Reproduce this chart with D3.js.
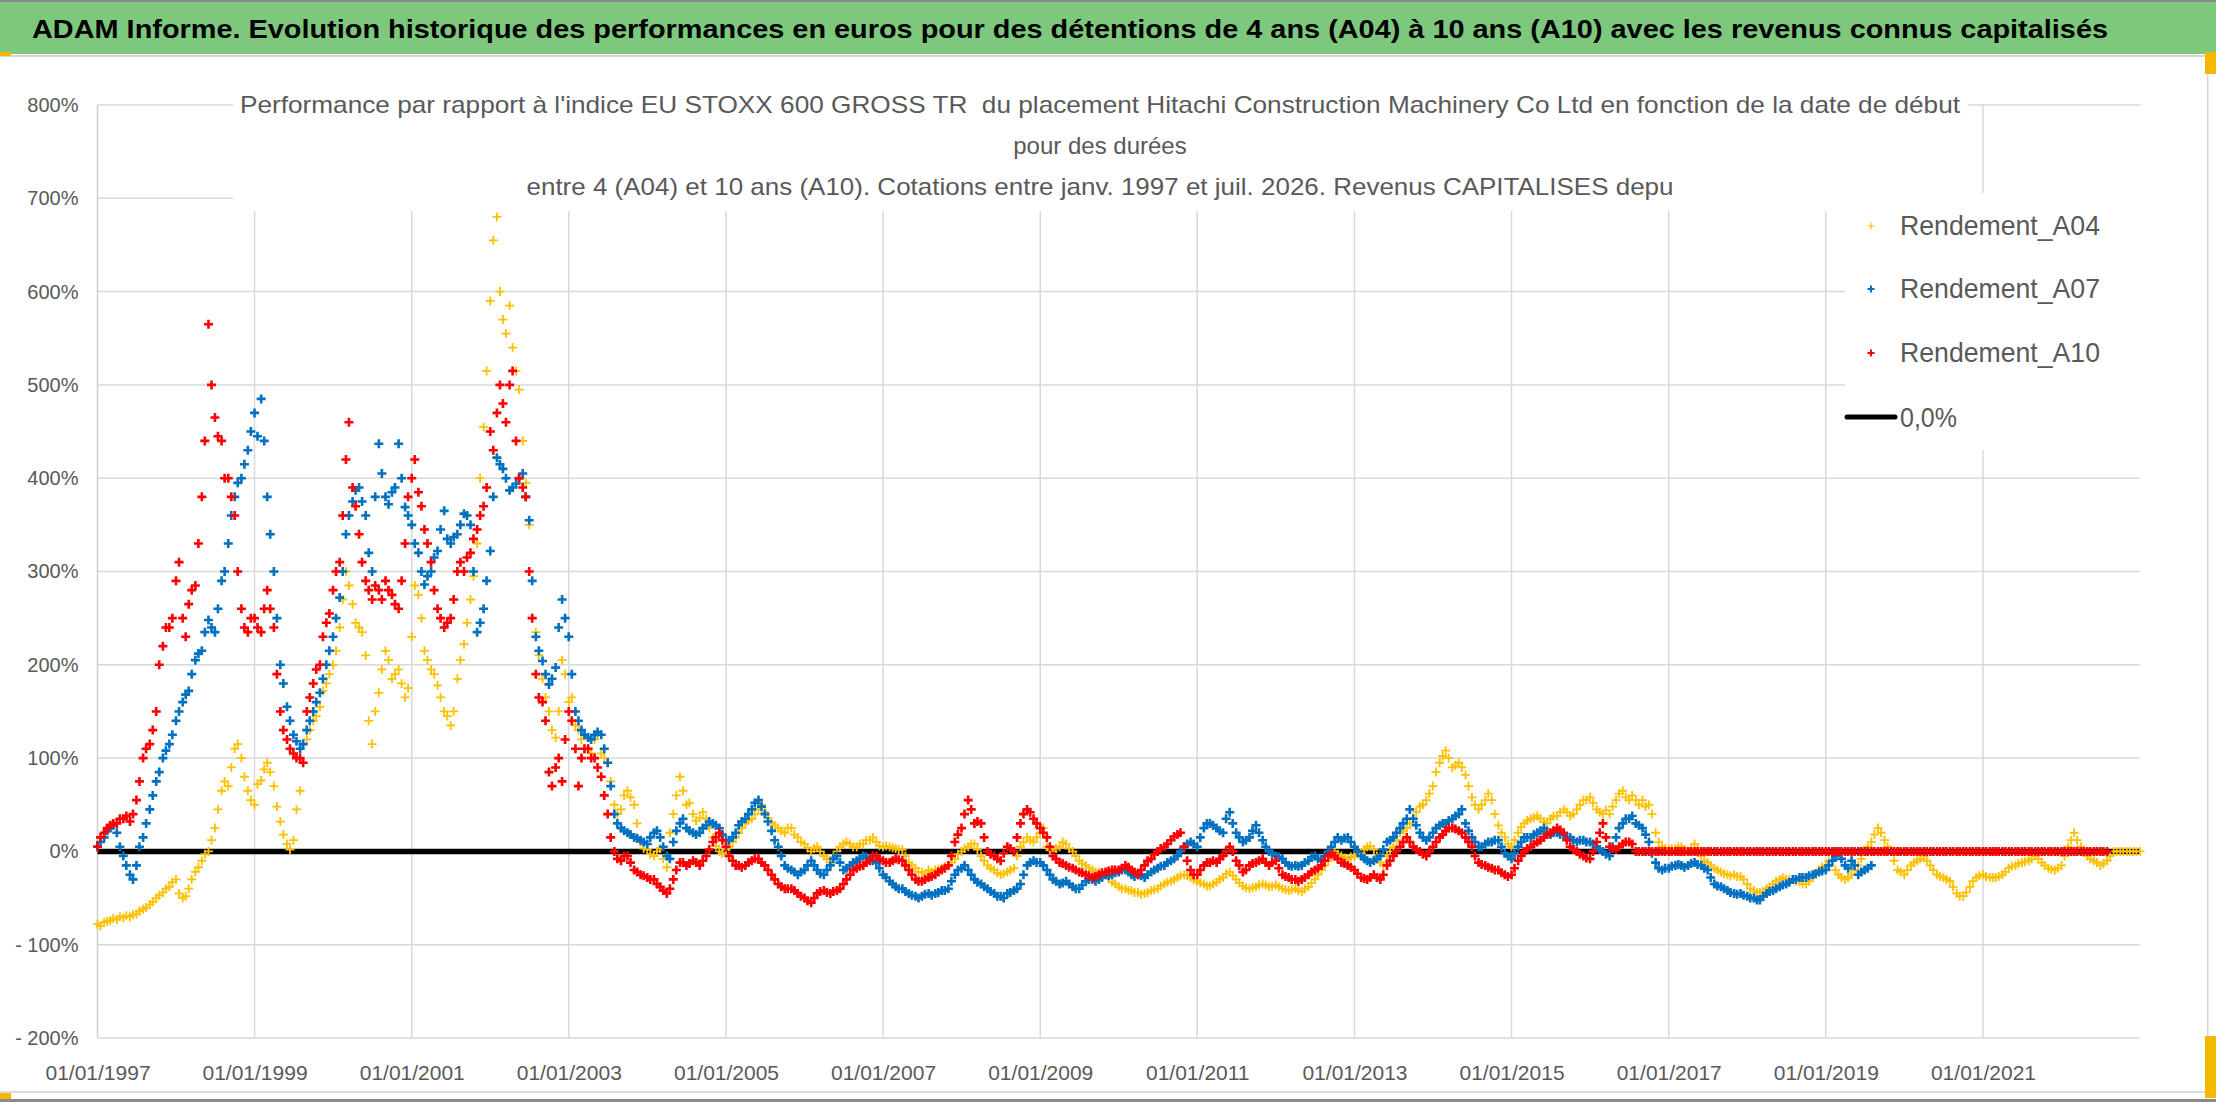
<!DOCTYPE html>
<html lang="fr">
<head>
<meta charset="utf-8">
<title>ADAM Informe - Hitachi Construction Machinery</title>
<script src="https://cdn.jsdelivr.net/npm/d3@7/dist/d3.min.js"></script>
<style>
  html, body { margin: 0; padding: 0; background: #fff; }
  svg { display: block; font-family: 'Liberation Sans', Arial, sans-serif; }
  text { white-space: pre; }
</style>
</head>
<body>
<svg id="chart" width="2216" height="1102"></svg>
<script>
// Texts
const bannerTitle = 'ADAM Informe. Evolution historique des performances en euros pour des détentions de 4 ans (A04) à 10 ans (A10) avec les revenus connus capitalisés';
const chartTitle = [
  "Performance par rapport à l'indice EU STOXX 600 GROSS TR  du placement Hitachi Construction Machinery Co Ltd en fonction de la date de début",
  'pour des durées',
  'entre 4 (A04) et 10 ans (A10). Cotations entre janv. 1997 et juil. 2026. Revenus CAPITALISES depu'
];

// Axes
const xTickDates = ['1997-01-01', '1999-01-01', '2001-01-01', '2003-01-01', '2005-01-01', '2007-01-01',
  '2009-01-01', '2011-01-01', '2013-01-01', '2015-01-01', '2017-01-01', '2019-01-01', '2021-01-01'];
const xTickLabels = ['01/01/1997', '01/01/1999', '01/01/2001', '01/01/2003', '01/01/2005', '01/01/2007',
  '01/01/2009', '01/01/2011', '01/01/2013', '01/01/2015', '01/01/2017', '01/01/2019', '01/01/2021'];
const xDomain = ['1997-01-01', '2023-01-01'];
const yTickValues = [-200, -100, 0, 100, 200, 300, 400, 500, 600, 700, 800];
const yTickLabels = ['- 200%', '- 100%', '0%', '100%', '200%', '300%', '400%', '500%', '600%', '700%', '800%'];

// Series: values in %, two per month (1st and 15th), starting 1 January 1997
const firstMonth = '1997-01-01';
const seriesNames = ['Rendement_A04', 'Rendement_A07', 'Rendement_A10'];
const seriesColors = ['#ffc000', '#0070c0', '#ff0000'];

const rendementA04 = [
  -78, -80, -76, -75, -74, -72, -73, -70, -71, -69, -70, -68, -67, -64, -62, -60, -57, -54, -50, -47, -44, -40, -38, -33, // 1997
  -30, -45, -50, -48, -40, -30, -22, -17, -10, -3, 0, 12, 25, 45, 65, 75, 70, 90, 110, 115, 100, 80, 65, 55,             // 1998
  50, 72, 76, 88, 95, 85, 70, 48, 32, 18, 8, 2, 12, 45, 65, 95, 120, 130, 140, 145, 155, 172, 180, 190,                   // 1999
  200, 215, 240, 270, 300, 285, 265, 245, 240, 235, 210, 140, 115, 150, 170, 195, 215, 205, 185, 190, 195, 180, 165, 175, // 2000
  230, 285, 275, 250, 215, 205, 195, 190, 178, 165, 150, 145, 135, 150, 185, 205, 222, 245, 270, 295, 330, 400, 455, 515, // 2001
  590, 655, 680, 600, 570, 555, 585, 540, 515, 495, 440, 395, 350, 250, 235, 210, 185, 165, 150, 130, 122, 150, 205, 190, // 2002
  160, 165, 135, 130, 120, 110, 110, 105, 120, 125, 105, 100, 95, 75, 50, 40, 45, 60, 65, 58, 50, 30, 10, 3,              // 2003
  2, -3, -5, 0, 3, -8, -17, 20, 40, 60, 80, 65, 50, 52, 40, 33, 36, 42, 35, 25, 15, 6, 0, -2,                             // 2004
  2, 5, 10, 15, 20, 25, 30, 33, 35, 40, 45, 50, 42, 36, 30, 28, 25, 22, 20, 25, 25, 18, 15, 10,                           // 2005
  8, 4, 0, 3, 5, 0, -5, -8, -12, -6, 0, 5, 8, 10, 8, 5, 5, 8, 8, 12, 12, 15, 10, 6,                                       // 2006
  5, 6, 5, 4, 3, 2, 2, -5, -12, -15, -18, -22, -22, -24, -20, -22, -20, -19, -18, -16, -15, -12, -8, -3,                  // 2007
  0, 3, 5, 8, 8, 2, -5, -10, -15, -18, -20, -23, -25, -24, -22, -20, -18, -5, 5, 10, 15, 12, 10, 15,                      // 2008
  20, 25, 5, 2, 0, 3, 5, 10, 8, 3, 0, -5, -10, -13, -15, -18, -20, -22, -22, -24, -25, -28, -33, -35,                     // 2009
  -38, -40, -40, -42, -42, -44, -44, -46, -45, -44, -42, -41, -40, -37, -35, -33, -32, -30, -28, -26, -25, -26, -28, -30, // 2010
  -32, -34, -35, -37, -37, -35, -33, -30, -28, -24, -22, -26, -30, -34, -37, -39, -40, -39, -38, -36, -35, -36, -38, -37, // 2011
  -36, -38, -40, -41, -42, -41, -40, -42, -43, -40, -38, -34, -30, -25, -20, -15, -10, -5, 0, -3, -5, -7, -8, -6,         // 2012
  -5, -3, -2, 2, 5, 6, 2, -5, -12, -15, -5, 0, 5, 12, 20, 22, 25, 30, 35, 42, 48, 50, 55, 62,                             // 2013
  70, 85, 95, 102, 108, 100, 90, 92, 95, 90, 82, 70, 58, 50, 45, 50, 55, 62, 55, 40, 28, 20, 15, 8,                       // 2014
  5, 12, 20, 26, 30, 33, 35, 36, 38, 35, 32, 30, 35, 38, 38, 42, 45, 42, 38, 40, 45, 50, 55, 55,                          // 2015
  58, 52, 45, 42, 40, 44, 40, 48, 55, 62, 65, 58, 55, 60, 55, 50, 55, 48, 50, 40, 20, 10, 5, 3,                           // 2016
  2, 3, 3, 5, 5, 2, 0, 3, 8, 3, -5, -10, -12, -15, -18, -20, -22, -24, -25, -26, -25, -27, -27, -30,                      // 2017
  -35, -40, -42, -44, -44, -43, -40, -38, -35, -32, -30, -28, -30, -30, -30, -32, -32, -35, -35, -32, -28, -24, -20, -17, // 2018
  -15, -10, -10, -20, -25, -28, -30, -28, -25, -20, -15, -8, 0, 5, 10, 18, 25, 20, 12, 5, 0, -10, -20, -22,               // 2019
  -25, -20, -15, -12, -10, -8, -5, -10, -15, -20, -25, -27, -28, -30, -32, -38, -45, -48, -48, -44, -38, -32, -28, -26,   // 2020
  -25, -27, -28, -28, -28, -27, -25, -22, -18, -16, -15, -13, -12, -11, -10, -8, -5, -8, -12, -15, -18, -19, -20, -18,    // 2021
  -15, -5, 5, 12, 20, 12, 5, 0, -5, -8, -10, -12, -15, -13, -10, -5, 0, 0, 0, 0, 0, 0, 0, 0,                              // 2022
  0                                                                                                                        // 2023
];

const rendementA07 = [
  5, 10, 15, 22, 25, 28, 20, 5, -5, -15, -25, -30, -15, 5, 15, 30, 45, 60, 75, 85, 100, 108, 115, 125,                    // 1997
  140, 150, 160, 168, 172, 190, 205, 212, 215, 235, 248, 240, 235, 260, 290, 300, 330, 360, 380, 395, 400, 415, 430, 450, // 1998
  470, 445, 485, 440, 380, 340, 300, 250, 200, 180, 155, 140, 125, 118, 110, 115, 130, 140, 150, 160, 170, 185, 200, 215, // 1999
  230, 250, 272, 300, 340, 360, 375, 387, 390, 375, 360, 320, 300, 380, 437, 405, 380, 372, 385, 390, 437, 400, 369, 360, // 2000
  350, 330, 320, 300, 286, 295, 300, 315, 322, 345, 365, 335, 330, 337, 340, 350, 362, 360, 350, 300, 235, 245, 260, 290, // 2001
  322, 380, 422, 415, 410, 400, 387, 390, 394, 400, 405, 380, 355, 290, 230, 215, 204, 190, 179, 185, 197, 240, 270, 250, // 2002
  230, 190, 150, 140, 130, 125, 122, 120, 125, 128, 125, 110, 95, 70, 40, 30, 25, 22, 20, 18, 15, 14, 12, 10,             // 2003
  8, 15, 20, 22, 15, 5, -5, -8, 10, 22, 30, 35, 25, 22, 20, 18, 20, 25, 28, 32, 30, 28, 25, 18,                           // 2004
  12, 12, 15, 20, 28, 32, 35, 40, 45, 52, 55, 48, 40, 32, 22, 12, 5, -5, -15, -18, -20, -22, -25, -22,                    // 2005
  -20, -15, -10, -15, -20, -24, -25, -20, -15, -8, -5, -12, -20, -18, -15, -12, -10, -8, -5, -6, -8, -10, -12, -18,       // 2006
  -25, -28, -32, -35, -38, -40, -40, -43, -45, -47, -48, -50, -48, -46, -45, -47, -45, -44, -42, -42, -40, -32, -25, -20, // 2007
  -18, -15, -20, -25, -30, -33, -35, -38, -40, -43, -45, -48, -48, -50, -45, -44, -42, -40, -35, -25, -15, -12, -10, -12, // 2008
  -12, -15, -20, -25, -30, -32, -35, -34, -32, -35, -38, -40, -40, -36, -32, -30, -30, -32, -30, -28, -25, -26, -25, -23, // 2009
  -22, -20, -20, -22, -25, -27, -25, -26, -28, -25, -22, -20, -18, -16, -15, -12, -10, -8, -5, 0, 5, 8, 10, 8,            // 2010
  5, 15, 25, 30, 30, 28, 25, 22, 20, 35, 42, 30, 20, 15, 10, 12, 15, 22, 28, 20, 12, 5, 0, -2,                            // 2011
  -5, -6, -8, -12, -15, -16, -15, -16, -15, -12, -10, -6, -5, -8, -10, -5, 0, 5, 10, 15, 12, 14, 15, 10,                  // 2012
  5, 0, -5, -8, -10, -12, -10, -8, -5, 2, 10, 12, 15, 20, 25, 30, 35, 45, 35, 28, 20, 15, 12, 15,                         // 2013
  20, 25, 28, 30, 30, 33, 35, 38, 40, 45, 30, 22, 15, 10, 5, 5, 8, 10, 10, 12, 12, 5, -2, -5,                             // 2014
  -8, -2, 5, 10, 15, 15, 15, 18, 20, 22, 25, 20, 18, 20, 20, 18, 18, 15, 15, 12, 10, 12, 12, 10,                          // 2015
  10, 8, 5, 2, 0, -3, -5, 5, 15, 25, 30, 35, 35, 38, 30, 28, 25, 18, 10, -2, -12, -18, -20, -18,                          // 2016
  -18, -16, -15, -14, -15, -17, -15, -13, -12, -14, -15, -18, -20, -28, -35, -37, -38, -40, -42, -44, -45, -46, -45, -47, // 2017
  -48, -50, -50, -52, -52, -48, -45, -43, -42, -40, -38, -36, -35, -33, -30, -30, -28, -28, -28, -26, -25, -24, -22, -21, // 2018
  -20, -15, -10, -5, 0, -8, -15, -18, -10, -15, -25, -22, -20, -18, -15                                                   // 2019
];

const rendementA10 = [
  5, 15, 20, 25, 28, 30, 30, 35, 35, 38, 32, 40, 55, 75, 100, 110, 115, 130, 150, 200, 220, 240, 240, 250,                // 1997
  290, 310, 250, 230, 265, 280, 285, 330, 380, 440, 565, 500, 465, 445, 440, 400, 400, 380, 360, 300, 260, 240, 235, 250, // 1998
  250, 240, 235, 260, 280, 260, 240, 190, 150, 130, 120, 110, 105, 100, 100, 95, 150, 165, 180, 195, 200, 230, 245, 255,  // 1999
  280, 300, 310, 360, 420, 460, 390, 370, 340, 310, 290, 280, 270, 285, 280, 270, 290, 280, 275, 265, 260, 290, 330, 380, // 2000
  400, 420, 385, 370, 345, 330, 310, 280, 260, 250, 240, 245, 250, 270, 300, 310, 300, 315, 320, 335, 345, 360, 370, 390, // 2001
  450, 430, 470, 500, 480, 460, 500, 515, 440, 400, 390, 380, 300, 250, 190, 165, 160, 140, 85, 70, 90, 100, 75, 120,     // 2002
  150, 140, 110, 70, 100, 110, 110, 100, 100, 90, 80, 60, 40, 15, 0, -8, -10, -5, -5, -12, -20, -22, -25, -26,            // 2003
  -28, -30, -30, -35, -38, -42, -45, -40, -30, -20, -12, -12, -15, -13, -10, -12, -15, -10, -5, 2, 10, 15, 20, 12,        // 2004
  5, -5, -10, -15, -15, -17, -15, -12, -10, -8, -8, -12, -15, -20, -25, -30, -35, -38, -40, -40, -40, -42, -45, -48,      // 2005
  -50, -53, -55, -50, -45, -43, -42, -44, -45, -43, -42, -40, -35, -30, -25, -20, -18, -16, -15, -12, -10, -5, -5, -8,    // 2006
  -10, -12, -12, -10, -8, -9, -10, -15, -20, -25, -30, -32, -32, -30, -28, -27, -25, -22, -20, -18, -15, -5, 10, 18,      // 2007
  25, 40, 55, 45, 30, 32, 30, 15, 0, -3, -5, -8, -10, -2, 5, 3, 0, 15, 30, 40, 45, 42, 35, 30,                            // 2008
  25, 20, 15, 5, -5, -8, -12, -13, -15, -17, -18, -20, -22, -23, -25, -26, -28, -27, -25, -23, -22, -21, -20, -20,        // 2009
  -20, -18, -15, -17, -20, -22, -25, -20, -15, -10, -8, -3, 0, 3, 5, 8, 12, 16, 18, 20, 5, -10, -20, -25,                 // 2010
  -25, -20, -15, -12, -12, -10, -12, -8, -5, 0, 5, 0, -10, -15, -22, -20, -15, -13, -12, -10, -8, -12, -15, -12,          // 2011
  -10, -18, -25, -27, -28, -30, -30, -32, -30, -28, -25, -22, -20, -18, -15, -10, -5, -3, -5, -8, -12, -13, -15, -17,     // 2012
  -20, -24, -28, -29, -30, -28, -25, -28, -30, -25, -15, -10, -5, 0, 5, 10, 15, 10, 5, 2, 0, -3, -5, 0,                   // 2013
  5, 10, 15, 18, 22, 25, 25, 24, 22, 20, 15, 10, 5, -5, -12, -14, -15, -17, -18, -20, -20, -23, -25, -27,                 // 2014
  -25, -18, -10, -5, 0, 3, 5, 8, 10, 12, 15, 18, 20, 22, 25, 23, 20, 12, 5, 2, 0, -3, -5, -7,                             // 2015
  -8, 0, 10, 20, 30, 15, 5, 3, 2, 5, 8, 10, 10, 8, 0, 0, 0, 0, 0, 0, 0, 0, 0, 0,                                          // 2016
  0, 0, 0, 0, 0, 0, 0, 0, 0, 0, 0, 0, 0, 0, 0, 0, 0, 0, 0, 0, 0, 0, 0, 0,                                                 // 2017
  0, 0, 0, 0, 0, 0, 0, 0, 0, 0, 0, 0, 0, 0, 0, 0, 0, 0, 0, 0, 0, 0, 0, 0,                                                 // 2018
  0, 0, 0, 0, 0, 0, 0, 0, 0, 0, 0, 0, 0, 0, 0, 0, 0, 0, 0, 0, 0, 0, 0, 0,                                                 // 2019
  0, 0, 0, 0, 0, 0, 0, 0, 0, 0, 0, 0, 0, 0, 0, 0, 0, 0, 0, 0, 0, 0, 0, 0,                                                 // 2020
  0, 0, 0, 0, 0, 0, 0, 0, 0, 0, 0, 0, 0, 0, 0, 0, 0, 0, 0, 0, 0, 0, 0, 0,                                                 // 2021
  0, 0, 0, 0, 0, 0, 0, 0, 0, 0, 0, 0, 0, 0, 0                                                                             // 2022
];

// Reference line "0,0%"
const seuilLabel = '0,0%';
const seuilDates = ['1997-01-01', '2023-01-01'];
const seuilValues = [0, 0];

const parseDate = d3.timeParse('%Y-%m-%d');

const renderChart = () => {
  const svg = d3.select('#chart');
  const W = 2216;
  const H = 1102;
  const plot = { left: 97.5, right: 2140, top: 105, bottom: 1038 };

  const x = d3.scaleTime()
    .domain(xDomain.map(parseDate))
    .range([plot.left, plot.right]);

  const y = d3.scaleLinear()
    .domain([-200, 800])
    .range([plot.bottom, plot.top]);

  // Frame and banner
  svg.append('rect').attr('width', W).attr('height', H).attr('fill', '#fff');
  svg.append('rect').attr('x', 0).attr('y', 0).attr('width', W).attr('height', 54).attr('fill', '#7dc87d');
  svg.append('rect').attr('x', 0).attr('y', 0).attr('width', W).attr('height', 2).attr('fill', '#8a8a8a');
  svg.append('rect').attr('x', 0).attr('y', 55).attr('width', W).attr('height', 2).attr('fill', '#d6d6d6');
  svg.append('rect').attr('x', 2207).attr('y', 57).attr('width', 1.5).attr('height', 1035).attr('fill', '#d6d6d6');
  svg.append('rect').attr('x', 0).attr('y', 1091).attr('width', 2208).attr('height', 2).attr('fill', '#dcdcdc');
  svg.append('rect').attr('x', 0).attr('y', 1099).attr('width', W).attr('height', 3).attr('fill', '#8a8a8a');
  // Excel selection handles
  svg.append('rect').attr('x', 0).attr('y', 52).attr('width', 11).attr('height', 4).attr('fill', '#f5b800');
  svg.append('rect').attr('x', 0).attr('y', 1093).attr('width', 11).attr('height', 6).attr('fill', '#f5b800');
  svg.append('rect').attr('x', 2205).attr('y', 52).attr('width', 11).attr('height', 22).attr('fill', '#f5b800');
  svg.append('rect').attr('x', 2205).attr('y', 1036).attr('width', 11).attr('height', 62).attr('fill', '#f5b800');

  svg.append('text')
    .attr('x', 32)
    .attr('y', 38)
    .attr('textLength', 2076)
    .attr('lengthAdjust', 'spacingAndGlyphs')
    .style('font-size', '25px')
    .style('font-weight', 'bold')
    .attr('fill', '#000')
    .text(bannerTitle);

  // Gridlines
  const grid = svg.append('g').attr('class', 'grid');
  grid.selectAll('line.h')
    .data(yTickValues)
    .enter().append('line')
    .attr('class', 'h')
    .attr('x1', plot.left).attr('x2', plot.right)
    .attr('y1', d => y(d)).attr('y2', d => y(d))
    .attr('stroke', '#d9d9d9')
    .attr('stroke-width', 1.5);

  grid.selectAll('line.v')
    .data(xTickDates.slice(1).map(parseDate))
    .enter().append('line')
    .attr('class', 'v')
    .attr('x1', d => x(d)).attr('x2', d => x(d))
    .attr('y1', plot.top).attr('y2', plot.bottom)
    .attr('stroke', '#d9d9d9')
    .attr('stroke-width', 1.5);

  grid.append('line')
    .attr('x1', plot.left).attr('x2', plot.left)
    .attr('y1', plot.top).attr('y2', plot.bottom)
    .attr('stroke', '#d0d0d0')
    .attr('stroke-width', 1.5);

  // White boxes behind the chart title and the legend
  svg.append('rect').attr('x', 233).attr('y', 90).attr('width', 1735).attr('height', 121).attr('fill', '#fff');
  svg.append('rect').attr('x', 1845).attr('y', 193).attr('width', 310).attr('height', 257).attr('fill', '#fff');

  // Y axis labels
  svg.append('g')
    .attr('transform', `translate(${plot.left - 19},0)`)
    .call(d3.axisLeft(y).tickValues(yTickValues).tickFormat((d, i) => yTickLabels[i]).tickSize(0))
    .call(g => g.select('.domain').remove())
    .call(g => g.selectAll('text')
      .attr('x', 0)
      .attr('fill', '#595959')
      .style('font-size', '20px')
      .style('font-family', "'Liberation Sans', Arial, sans-serif"));

  // X axis labels
  svg.append('g')
    .attr('transform', `translate(0,${plot.bottom + 27})`)
    .call(d3.axisBottom(x).tickValues(xTickDates.map(parseDate)).tickFormat((d, i) => xTickLabels[i]).tickSize(0))
    .call(g => g.select('.domain').remove())
    .call(g => g.selectAll('text')
      .attr('y', 0)
      .attr('dy', '0.71em')
      .attr('fill', '#595959')
      .style('font-size', '21px')
      .style('font-family', "'Liberation Sans', Arial, sans-serif"));

  // Chart title
  const titleLengths = [1720, null, 1147];
  svg.append('g')
    .selectAll('text')
    .data(chartTitle)
    .enter().append('text')
    .attr('x', 1100)
    .attr('y', (d, i) => 113 + i * 41)
    .attr('text-anchor', 'middle')
    .attr('fill', '#595959')
    .style('font-size', '24px')
    .each(function (d, i) {
      if (titleLengths[i]) {
        d3.select(this).attr('textLength', titleLengths[i]).attr('lengthAdjust', 'spacingAndGlyphs');
      }
    })
    .text(d => d);

  // Zero line
  const seuil = seuilDates.map((d, i) => ({ date: parseDate(d), value: seuilValues[i] }));
  svg.append('path')
    .datum(seuil)
    .attr('fill', 'none')
    .attr('stroke', '#000')
    .attr('stroke-width', 5.5)
    .attr('d', d3.line().x(d => x(d.date)).y(d => y(d.value)));

  // Scatter series with "+" markers (index i -> 1st or 15th of month i/2)
  const start = parseDate(firstMonth);
  const toPoints = values => values.map((v, i) => ({
    date: d3.timeDay.offset(d3.timeMonth.offset(start, Math.floor(i / 2)), (i % 2) * 14),
    value: v
  }));
  const plusPath = s => `M${-s},0H${s}M0,${-s}V${s}`;
  const strokeWidths = [1.8, 2.6, 2.6];

  [rendementA04, rendementA07, rendementA10].forEach((values, si) => {
    svg.append('g')
      .attr('class', 'series')
      .selectAll('path')
      .data(toPoints(values))
      .enter().append('path')
      .attr('transform', d => `translate(${x(d.date)},${y(d.value)})`)
      .attr('d', plusPath(4.5))
      .attr('fill', 'none')
      .attr('stroke', seriesColors[si])
      .attr('stroke-width', strokeWidths[si]);
  });

  // Legend
  const legend = svg.append('g').attr('class', 'legend');
  const legendRows = [226, 289, 353];
  seriesNames.forEach((name, i) => {
    legend.append('path')
      .attr('transform', `translate(1871,${legendRows[i]})`)
      .attr('d', plusPath(3.5))
      .attr('stroke', seriesColors[i])
      .attr('stroke-width', i === 0 ? 1.2 : 2);
    legend.append('text')
      .attr('x', 1900)
      .attr('y', legendRows[i] + 9)
      .attr('textLength', 200)
      .attr('lengthAdjust', 'spacingAndGlyphs')
      .attr('fill', '#595959')
      .style('font-size', '28px')
      .text(name);
  });
  legend.append('line')
    .attr('x1', 1847).attr('x2', 1895)
    .attr('y1', 417).attr('y2', 417)
    .attr('stroke', '#000')
    .attr('stroke-width', 5)
    .attr('stroke-linecap', 'round');
  legend.append('text')
    .attr('x', 1900)
    .attr('y', 427)
    .attr('textLength', 57)
    .attr('lengthAdjust', 'spacingAndGlyphs')
    .attr('fill', '#595959')
    .style('font-size', '28px')
    .text(seuilLabel);
};

document.addEventListener('DOMContentLoaded', renderChart);
</script>
</body>
</html>
